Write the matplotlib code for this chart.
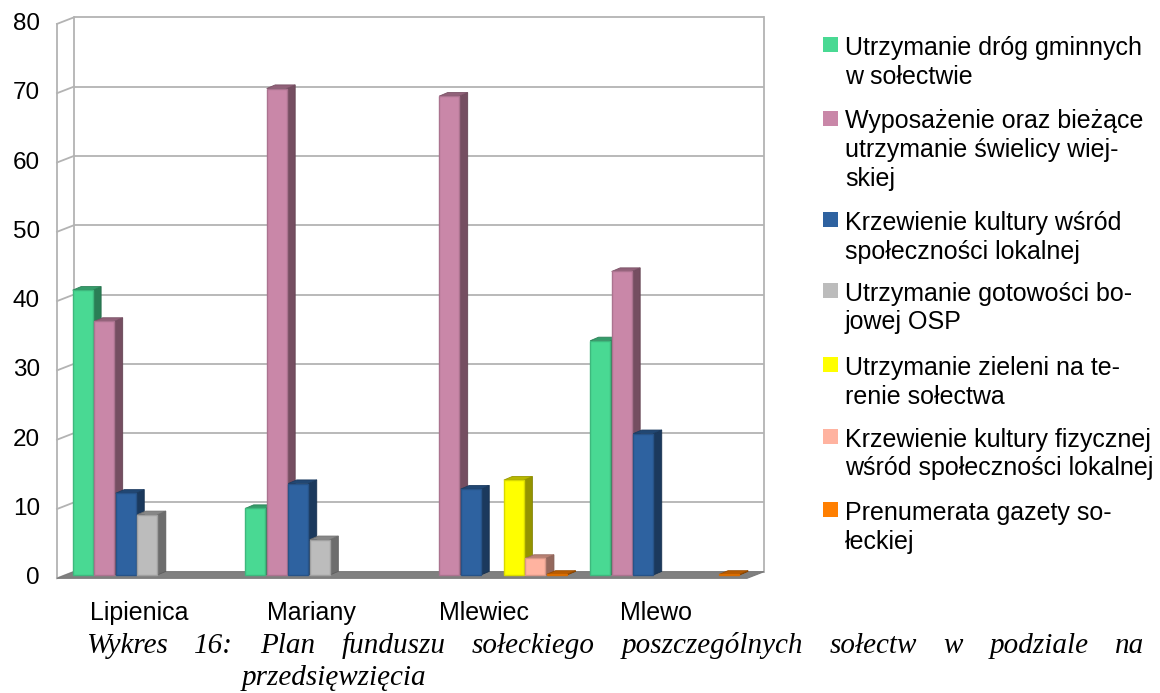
import matplotlib
matplotlib.use("Agg")
import matplotlib.pyplot as plt
from matplotlib.patches import Polygon, Rectangle
from matplotlib.colors import to_rgb
import numpy as np

# ---------------- data ----------------
categories = ["Lipienica", "Mariany", "Mlewiec", "Mlewo"]

s1_drogi = [41.1, 9.6, 0.0, 33.8]
s2_swietlica = [36.6, 70.2, 69.1, 43.8]
s3_kultura = [11.8, 13.2, 12.4, 20.4]
s4_osp = [8.7, 5.1, 0.0, 0.0]
s5_zielen = [0.0, 0.0, 13.7, 0.0]
s6_sport = [0.0, 0.0, 2.4, 0.0]
s7_gazeta = [0.0, 0.0, 0.1, 0.1]

legend_labels = [
    "Utrzymanie dróg gminnych\nw sołectwie",
    "Wyposażenie oraz bieżące\nutrzymanie świelicy wiej-\nskiej",
    "Krzewienie kultury wśród\nspołeczności lokalnej",
    "Utrzymanie gotowości bo-\njowej OSP",
    "Utrzymanie zieleni na te-\nrenie sołectwa",
    "Krzewienie kultury fizycznej\nwśród społeczności lokalnej",
    "Prenumerata gazety so-\nłeckiej",
]
colors = ["#49d993", "#c987a8", "#2e62a0", "#bcbcbc", "#ffff00", "#ffb3a0", "#ff7f00"]
yticks = [0, 10, 20, 30, 40, 50, 60, 70, 80]
caption_line1 = "Wykres 16: Plan funduszu sołeckiego poszczególnych sołectw w podziale na"
caption_line2 = "przedsięwzięcia"

series = [s1_drogi, s2_swietlica, s3_kultura, s4_osp, s5_zielen, s6_sport, s7_gazeta]

# ---------------- figure ----------------
W, H = 1160, 693
fig = plt.figure(figsize=(W / 100, H / 100), dpi=100)
fig.patch.set_facecolor("white")
sans = ["Liberation Sans", "DejaVu Sans"]
serif = ["Liberation Serif", "DejaVu Serif"]

ax = fig.add_axes([65.5 / W, 1 - 575 / H, 690 / W, 554.4 / H])
n_slots = 8 * len(categories)
ax.set_xlim(0, n_slots)
ax.set_ylim(0, 80)
ax.set_axis_off()


def px2data(dx, dy):
    p0 = ax.transData.transform((0, 0))
    return ax.transData.inverted().transform(p0 + np.array([dx, dy]))


bdx, bdy = px2data(8.5, 3.3)     # mid-plane -> back wall
ddx, ddy = px2data(8.5, 3.6)     # bar depth
grid_c = "#b3b3b3"
lw = 1.3

# back wall grid
for y in yticks:
    ax.plot([bdx, n_slots + bdx], [y + bdy, y + bdy], color=grid_c, lw=lw,
            clip_on=False, zorder=1, solid_capstyle="butt")
    # side wall slanted ticks
    ax.plot([-bdx, bdx], [y - bdy, y + bdy], color=grid_c, lw=lw, clip_on=False, zorder=1)
for x in (bdx, n_slots + bdx):
    ax.plot([x, x], [bdy, 80 + bdy], color=grid_c, lw=lw, clip_on=False, zorder=1)
ax.plot([-bdx, -bdx], [-bdy, 80 - bdy], color=grid_c, lw=lw, clip_on=False, zorder=1)

# floor
floor = Polygon([(-bdx, -bdy), (n_slots - bdx, -bdy), (n_slots + bdx, bdy), (bdx, bdy)],
                closed=True, facecolor="#808080", edgecolor="#7a7a7a", lw=0.8,
                clip_on=False, zorder=2)
ax.add_patch(floor)


def shade(c, f):
    r, g, b = to_rgb(c)
    return (r * f, g * f, b * f)


# bars
bar_w = 20 / 21.56
z = 3
for i in range(len(categories)):
    for j, s in enumerate(series):
        v = s[i]
        if v <= 0:
            continue
        xl = 8 * i + j + 0.33
        col = colors[j]
        rect = ax.bar(xl, v, width=bar_w, align="edge", color=col,
                      edgecolor=shade(col, 0.85), linewidth=1.0, zorder=z + 2,
                      clip_on=False)[0]
        xr = xl + bar_w
        side = Polygon([(xr, 0), (xr, v), (xr + ddx, v + ddy), (xr + ddx, ddy)],
                       closed=True, facecolor=shade(col, 0.58), edgecolor=shade(col, 0.5),
                       lw=0.6, clip_on=False, zorder=z)
        top = Polygon([(xl, v), (xr, v), (xr + ddx, v + ddy), (xl + ddx, v + ddy)],
                      closed=True, facecolor=shade(col, 0.72), edgecolor=shade(col, 0.6),
                      lw=0.6, clip_on=False, zorder=z + 1)
        ax.add_patch(side)
        ax.add_patch(top)
        z += 3

# y tick labels
lx, _ = px2data(17, 0)
for y in yticks:
    ax.text(-bdx - lx, y - bdy, str(y), ha="right", va="center", fontsize=17.5,
            family=sans, color="black", clip_on=False)

# category labels
_, cy = px2data(0, -38)
for i, c in enumerate(categories):
    ax.text(8 * i + 3.8 - bdx, cy, c, ha="center", va="center", fontsize=18,
            family=sans, color="black")

# legend (figure pixel coordinates)
first_baselines = [55, 128.3, 230, 300.7, 375, 446.7, 520]
line_pitch = 28.7
for k, lab in enumerate(legend_labels):
    b = first_baselines[k]
    fig.patches.append(Rectangle((822.5 / W, 1 - (b - 2.7) / H), 15 / W, 15 / H,
                                 transform=fig.transFigure, facecolor=colors[k],
                                 edgecolor="none"))
    for m, line in enumerate(lab.split("\n")):
        fig.text(845 / W, 1 - (b + m * line_pitch) / H, line, ha="left", va="baseline",
                 fontsize=18, family=sans, color="black")

# caption (justified first line)
renderer = fig.canvas.get_renderer()
words = caption_line1.split(" ")
texts = [fig.text(0, 1 - 653 / H, w_, ha="left", va="baseline", fontsize=21,
                  family=serif, style="italic") for w_ in words]
widths = [t.get_window_extent(renderer).width for t in texts]
x0, x1 = 86, 1144
gap = (x1 - x0 - sum(widths)) / (len(words) - 1)
x = x0
for t, wd in zip(texts, widths):
    t.set_x(x / W)
    x += wd + gap
fig.text(242 / W, 1 - 685 / H, caption_line2, ha="left", va="baseline", fontsize=21,
         family=serif, style="italic")

fig.savefig("out.png", dpi=100, facecolor="white")
